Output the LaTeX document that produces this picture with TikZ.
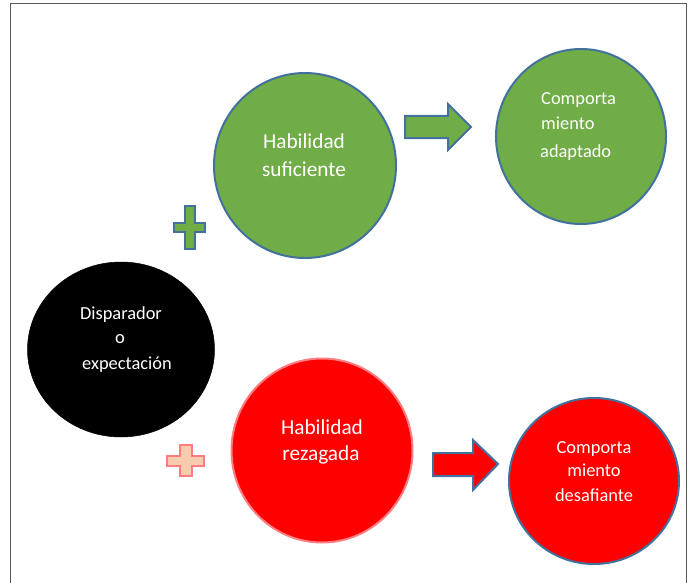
\documentclass[tikz,border=0pt]{standalone}
\usepackage{fontspec}
\setmainfont{Carlito}
\usetikzlibrary{shapes.geometric}
\definecolor{ogreen}{HTML}{70AD47}
\definecolor{oblue}{HTML}{41719C}
\definecolor{lred}{HTML}{FF7C80}
\definecolor{peach}{HTML}{F8CBAD}
\definecolor{framegray}{HTML}{595959}
\begin{document}
\begin{tikzpicture}[x=1pt,y=-1pt,
  bubble/.style={ellipse, inner sep=0pt, line width=2pt},
  lbl/.style={text=white, inner sep=0pt, anchor=mid},
  big/.style={lbl, font=\fontsize{21.3}{25}\selectfont},
  small/.style={lbl, font=\fontsize{18.4}{22}\selectfont},
  shapeline/.style={line width=2pt, line join=miter}]
\useasboundingbox (0,0) rectangle (690,583);
\draw[framegray, line width=1pt] (10,583) -- (10,4) -- (686,4) -- (686,583);

% circles
\node[bubble, fill=black, draw=black, line width=0.5pt, minimum width=187, minimum height=175] (trig) at (121,349.5) {};
\node[bubble, fill=ogreen, draw=oblue, minimum width=182, minimum height=185] (hs) at (305,165.5) {};
\node[bubble, fill=ogreen, draw=oblue, minimum width=170, minimum height=175] (ca) at (581,136.5) {};
\node[bubble, fill=red, draw=lred, minimum width=181, minimum height=184] (hr) at (322,450.5) {};
\node[bubble, fill=red, draw=oblue, minimum width=170, minimum height=166] (cd) at (594,481) {};

% plus signs
\draw[shapeline, fill=ogreen, draw=oblue] (185,206) -- (195,206) -- (195,223) -- (205,223) -- (205,232) -- (195,232) -- (195,249) -- (185,249) -- (185,232) -- (174,232) -- (174,223) -- (185,223) -- cycle;
\draw[shapeline, fill=peach, draw=lred] (180,445) -- (192,445) -- (192,456) -- (204,456) -- (204,466) -- (192,466) -- (192,476) -- (180,476) -- (180,466) -- (167,466) -- (167,456) -- (180,456) -- cycle;

% block arrows
\draw[shapeline, fill=ogreen, draw=oblue] (405,116) -- (448,116) -- (448,104) -- (471,127) -- (448,150) -- (448,138) -- (405,138) -- cycle;
\draw[shapeline, fill=red, draw=oblue] (433,453) -- (473,453) -- (473,440) -- (498,464) -- (473,490) -- (473,476) -- (433,476) -- cycle;

% texts
\node[small] (t1) at (121,317) {Disparador};
\node[small] (t2) at (120,341) {o};
\node[small] (t3) at (127,367) {expectación};

\node[big] (h1) at (304,146) {Habilidad};
\node[big] (h2) at (304,174) {suficiente};

\node[small, anchor=mid west] (c1) at (541,102) {Comporta};
\node[small, anchor=mid west] (c2) at (541,127) {miento};
\node[small, anchor=mid west] (c3) at (540,155) {adaptado};

\node[big] (r1) at (322,432) {Habilidad};
\node[big] (r2) at (321,458) {rezagada};

\node[small] (d1) at (594,451) {Comporta};
\node[small] (d2) at (594,474) {miento};
\node[small] (d3) at (594,499) {desafiante};
\end{tikzpicture}
\end{document}
